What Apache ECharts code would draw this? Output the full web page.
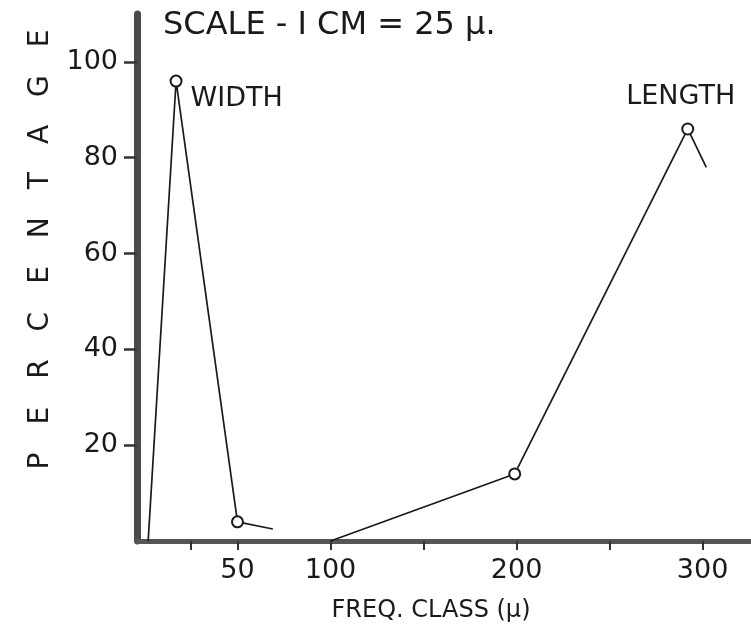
<!DOCTYPE html>
<html>
<head>
<meta charset="utf-8">
<script src="https://cdn.jsdelivr.net/npm/echarts@6/dist/echarts.min.js"></script>
<style>
  html, body { margin: 0; padding: 0; background: #ffffff; }
  #chart { width: 751px; height: 638px; }
</style>
</head>
<body>
<div id="chart"></div>
<script>
// Frequency class (µ) and percentage for the two measurements
const widthClass = [2, 17, 50, 69];
const widthPct = [0, 96, 4, 2.5];
const lengthClass = [100, 199, 292, 302];
const lengthPct = [0, 14, 86, 78];

// Axis ticks and labels
const yTickValues = [20, 40, 60, 80, 100];
const xTickValues = [25, 50, 100, 150, 200, 250, 300];
const xLabelValues = [50, 100, 200, 300];

const FONT = 'DejaVu Sans';
const INK = '#1a1a1a';

// Plotted points: only interior points carry an open circle
function buildPoints(xs, ys, labelIndex, labelOpts) {
  return xs.map((x, i) => {
    const interior = i > 0 && i < xs.length - 1;
    const item = { value: [x, ys[i]], symbol: interior ? 'emptyCircle' : 'none' };
    if (i === labelIndex) item.label = Object.assign({ show: true }, labelOpts);
    return item;
  });
}

const chart = echarts.init(document.getElementById('chart'));

chart.setOption({
  animation: false,
  backgroundColor: '#ffffff',
  title: {
    text: 'SCALE - I CM = 25 µ.',
    left: 158,
    top: 5,
    textStyle: { fontFamily: FONT, fontSize: 32, fontWeight: 'normal', color: INK }
  },
  grid: { left: 137, right: 0, top: 14, bottom: 97 },
  xAxis: {
    type: 'value',
    min: -4,
    max: 326,
    name: 'FREQ. CLASS (µ)',
    nameLocation: 'middle',
    nameGap: 58,
    nameTextStyle: { fontFamily: FONT, fontSize: 24, color: INK, padding: [0, 26, 0, 0] },
    axisLine: { show: true, onZero: false, lineStyle: { color: '#555555', width: 5 } },
    axisTick: { show: true, inside: false, customValues: xTickValues, length: 9, lineStyle: { color: '#333333', width: 2 } },
    axisLabel: { customValues: xLabelValues, margin: 16, fontFamily: FONT, fontSize: 27, color: INK },
    splitLine: { show: false }
  },
  yAxis: {
    type: 'value',
    min: 0,
    max: 110,
    name: 'P\u2003E\u2003R\u2003C\u2003E\u2003N\u2003T\u2003A\u2003G\u2003E',
    nameLocation: 'middle',
    nameGap: 82,
    nameRotate: 90,
    nameTextStyle: { fontFamily: FONT, fontSize: 28, color: INK, padding: [0, 0, 0, 56] },
    axisLine: { show: true, onZero: false, lineStyle: { color: '#4a4a4a', width: 7 } },
    axisTick: { show: true, inside: false, customValues: yTickValues, length: 13, lineStyle: { color: '#333333', width: 2.5 } },
    axisLabel: { customValues: yTickValues, margin: 19, fontFamily: FONT, fontSize: 27, color: INK },
    splitLine: { show: false }
  },
  series: [
    {
      name: 'WIDTH',
      type: 'line',
      symbolSize: 11,
      lineStyle: { color: INK, width: 1.7 },
      itemStyle: { color: INK, borderWidth: 1.8 },
      data: buildPoints(widthClass, widthPct, 1, {
        formatter: 'WIDTH', position: 'right', distance: 8, offset: [0, 18],
        fontFamily: FONT, fontSize: 27, color: INK
      }),
      z: 3
    },
    {
      name: 'LENGTH',
      type: 'line',
      symbolSize: 11,
      lineStyle: { color: INK, width: 1.7 },
      itemStyle: { color: INK, borderWidth: 1.8 },
      data: buildPoints(lengthClass, lengthPct, 2, {
        formatter: 'LENGTH', position: 'top', distance: 12, offset: [-7, 0],
        fontFamily: FONT, fontSize: 27, color: INK
      }),
      z: 3
    }
  ]
});
</script>
</body>
</html>
